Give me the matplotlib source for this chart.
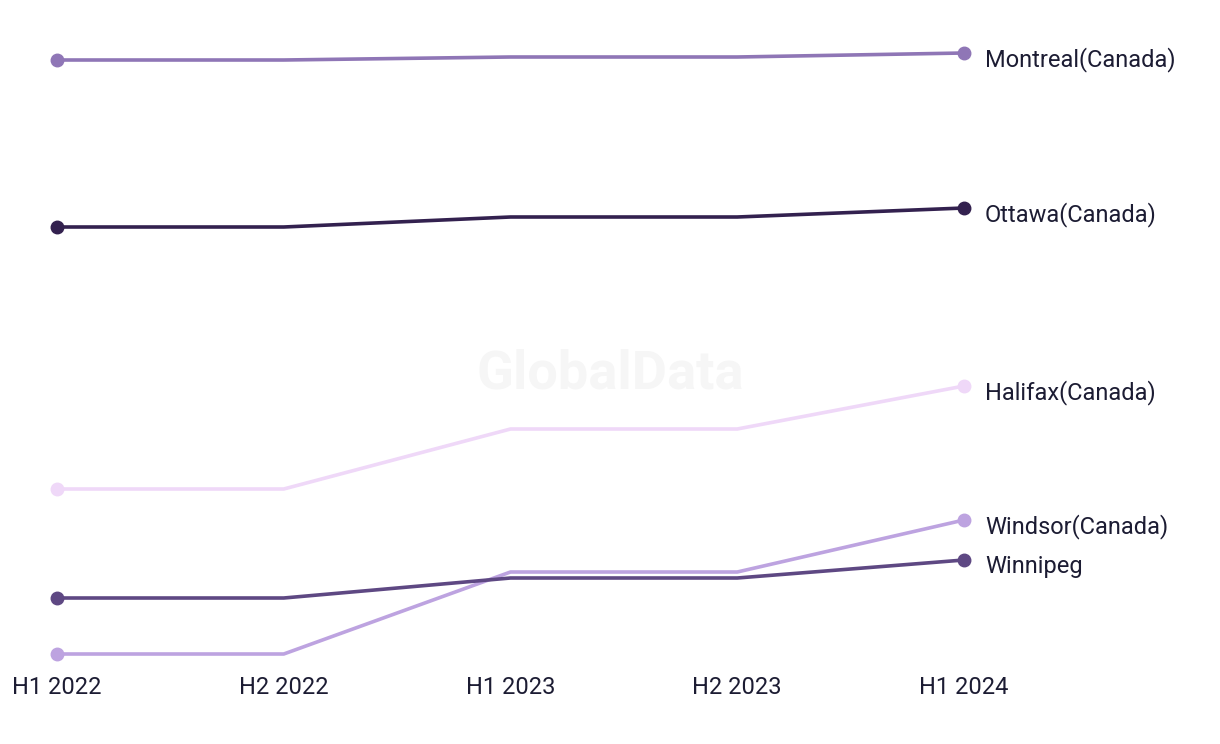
import matplotlib
matplotlib.use("Agg")
import matplotlib.pyplot as plt

periods = ["H1 2022", "H2 2022", "H1 2023", "H2 2023", "H1 2024"]
cities = ["Montreal(Canada)", "Ottawa(Canada)", "Halifax(Canada)", "Windsor(Canada)", "Winnipeg"]
montreal = [60.0, 60.0, 60.3, 60.3, 60.7]
ottawa = [43.3, 43.3, 44.3, 44.3, 45.2]
halifax = [17.1, 17.1, 23.1, 23.1, 27.4]
windsor = [0.6, 0.6, 8.8, 8.8, 14.0]
winnipeg = [6.2, 6.2, 8.2, 8.2, 10.0]
series = [montreal, ottawa, halifax, windsor, winnipeg]
colors = ["#8f76b6", "#33214f", "#efd8f8", "#bda3e0", "#5e4883"]

plt.rcParams['font.family'] = ['Roboto', 'DejaVu Sans']
fig = plt.figure(figsize=(12.2, 7.44), dpi=100)
ax = fig.add_axes([57/1220, (744-654)/744, (964-57)/1220, (654-53)/744])
x = list(range(len(periods)))

fig.text(610/1220, 1-374/744, "GlobalData", ha="center", va="center",
         fontsize=39, fontweight="bold", color="#f6f6f6", zorder=0)

for vals, c, name in zip(series, colors, cities):
    ax.plot(x, vals, color=c, lw=2.6, zorder=2, solid_capstyle="round", clip_on=False)
    ax.plot([x[0], x[-1]], [vals[0], vals[-1]], 'o', color=c, ms=9, zorder=3, clip_on=False)
    ax.annotate(name, (x[-1], vals[-1]), xytext=(15, -5), textcoords="offset points",
                ha="left", va="center", fontsize=17, color="#1c1c33", annotation_clip=False)

ax.set_xlim(0, 4)
ax.set_ylim(0.6, 60.7)
ax.set_xticks(x)
ax.set_xticklabels(periods, fontsize=17, color="#1c1c33")
ax.tick_params(axis='x', length=0, pad=16)
ax.set_yticks([])
for s in ax.spines.values():
    s.set_visible(False)
ax.patch.set_alpha(0)

fig.savefig("out.png", dpi=100)
